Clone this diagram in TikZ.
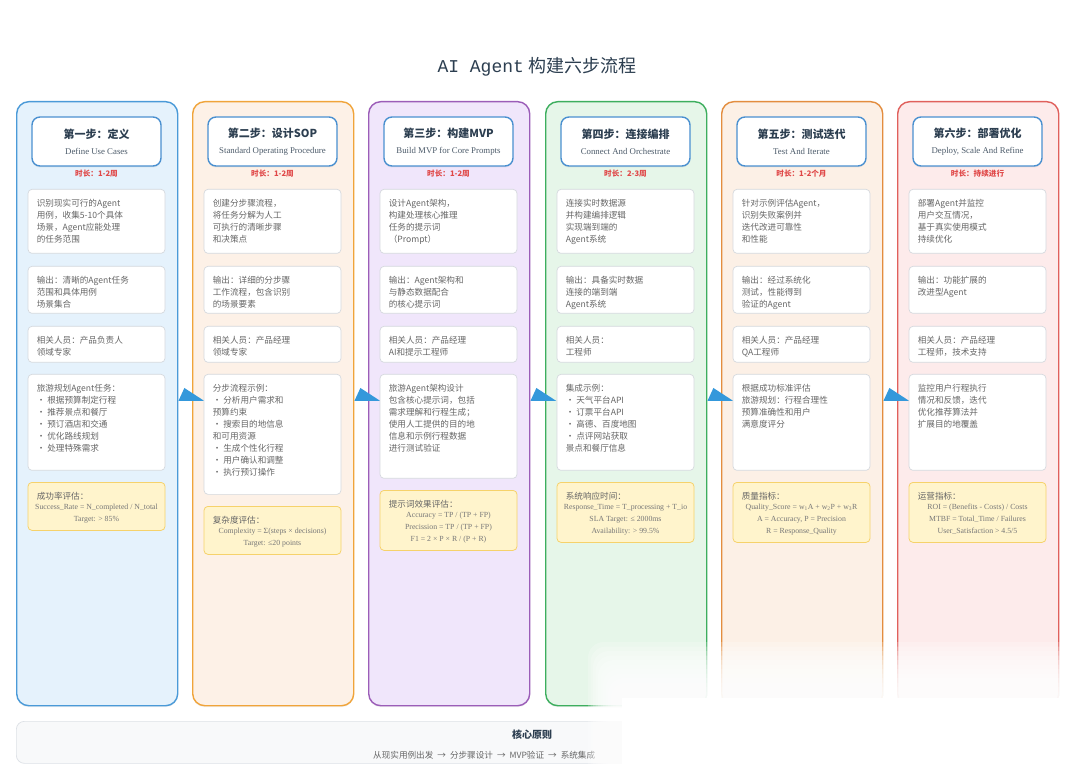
\documentclass[tikz,border=0pt]{standalone}
\usepackage{fontspec}
\setmainfont{Liberation Serif}
\newfontfamily\cjk{Noto Sans CJK SC}
\newfontfamily\monolat{Liberation Mono}
\usepackage{tikz}
\usetikzlibrary{calc, shadows}

\definecolor{sonefill}{HTML}{E5F2FC}   \definecolor{soneline}{HTML}{4A9AD8}
\definecolor{stwofill}{HTML}{FDF1E7}   \definecolor{stwoline}{HTML}{F0A43A}
\definecolor{sthreefill}{HTML}{F0E6FB} \definecolor{sthreeline}{HTML}{9B5DB8}
\definecolor{sfourfill}{HTML}{E6F6E9}  \definecolor{sfourline}{HTML}{3DAE5E}
\definecolor{sfivefill}{HTML}{FCF0E6}  \definecolor{sfiveline}{HTML}{E38D3F}
\definecolor{ssixfill}{HTML}{FDEBEB}   \definecolor{ssixline}{HTML}{E0605C}
\definecolor{headline}{HTML}{4A90D0}
\definecolor{arrowblue}{HTML}{3498DB}
\definecolor{durred}{HTML}{E04848}
\definecolor{boxline}{HTML}{D5D9DE}
\definecolor{metricfill}{HTML}{FFF4CC}
\definecolor{metricline}{HTML}{F6D26B}
\definecolor{titlecol}{HTML}{2C3E50}
\definecolor{bodygray}{HTML}{666666}
\definecolor{formgray}{HTML}{777777}
\definecolor{corefill}{HTML}{F8F9FA}
\definecolor{coreline}{HTML}{DDE1E6}

\tikzset{
    colbox/.style={line width=1.4pt, rounded corners=12pt, anchor=north west,
        minimum width=161pt, minimum height=604pt, inner sep=0pt,
        drop shadow={opacity=0.10, shadow xshift=0pt, shadow yshift=-1.5pt}},
    headbox/.style={draw=headline, line width=1.4pt, fill=white, rounded corners=8pt,
        minimum width=129pt, minimum height=49pt, align=center, inner sep=0pt,
        drop shadow={opacity=0.12, shadow xshift=0pt, shadow yshift=-1.5pt}},
    dur/.style={font=\cjk\bfseries\fontsize{7.6}{9}\selectfont, text=durred},
    descbox/.style={draw=boxline, line width=0.7pt, fill=white, rounded corners=4pt,
        anchor=north, minimum width=137pt, inner sep=0pt},
    metricbox/.style={draw=metricline, line width=0.8pt, fill=metricfill, rounded corners=4pt,
        anchor=north, minimum width=137pt, inner sep=0pt},
    desc/.style={font=\cjk\fontsize{8.6}{12}\selectfont, text=bodygray, anchor=north west,
        align=left, inner sep=0pt},
    formula/.style={font=\fontsize{7.8}{12}\selectfont, text=formgray, anchor=north,
        align=center, inner sep=0pt},
    steparrow/.style={fill=arrowblue},
}
\newcommand{\nextstep}{\hspace{4pt}→\hspace{4pt}}

\begin{document}
\begin{tikzpicture}[x=1pt, y=-1pt]
    \fill[white] (0,0) rectangle (1080,767);
    \useasboundingbox (0,0) rectangle (1080,767);

    \node[font=\fontsize{18}{20}\selectfont, text=titlecol] (title) at (537,67)
        {{\monolat AI Agent} {\cjk 构建六步流程}};

    % columns
    \node[colbox, draw=soneline, fill=sonefill] (s1) at (16,101) {};
    \node[colbox, draw=stwoline, fill=stwofill] (s2) at (192,101) {};
    \node[colbox, draw=sthreeline, fill=sthreefill] (s3) at (368,101) {};
    \node[colbox, draw=sfourline, fill=sfourfill] (s4) at (545,101) {};
    \node[colbox, draw=sfiveline, fill=sfivefill] (s5) at (721,101) {};
    \node[colbox, draw=ssixline, fill=ssixfill] (s6) at (897,101) {};

    \fill[steparrow] ($(s1.north east)+(0,300)$) -- ++(6,-13) -- ++(20,13) -- cycle;
    \fill[steparrow] ($(s2.north east)+(0,300)$) -- ++(6,-13) -- ++(20,13) -- cycle;
    \fill[steparrow] ($(s3.north east)+(0,300)$) -- ++(6,-13) -- ++(20,13) -- cycle;
    \fill[steparrow] ($(s4.north east)+(0,300)$) -- ++(6,-13) -- ++(20,13) -- cycle;
    \fill[steparrow] ($(s5.north east)+(0,300)$) -- ++(6,-13) -- ++(20,13) -- cycle;

    % step 1
    \node[headbox] (h1) at (96.5,141.5) {\textcolor{titlecol}{\cjk\bfseries\fontsize{11}{13}\selectfont 第一步：定义}\\[4pt]
        \textcolor{titlecol!85}{\fontsize{8.8}{10}\selectfont Define Use Cases}};
    \node[dur] (t1) at (96.5,174) {时长：1-2周};
    \node[descbox, minimum height=64pt] (s1a) at (96.5,189) {};
    \node[desc] (s1at) at ([shift={(9,10)}]s1a.north west) {识别现实可行的Agent\\用例，收集5-10个具体\\场景，Agent应能处理\\的任务范围};
    \node[descbox, minimum height=47pt] (s1b) at (96.5,266) {};
    \node[desc] (s1bt) at ([shift={(9,10)}]s1b.north west) {输出：清晰的Agent任务\\范围和具体用例\\场景集合};
    \node[descbox, minimum height=36pt] (s1c) at (96.5,326) {};
    \node[desc] (s1ct) at ([shift={(9,10)}]s1c.north west) {相关人员：产品负责人\\领域专家};
    \node[descbox, minimum height=96pt] (s1d) at (96.5,374) {};
    \node[desc] (s1dt) at ([shift={(9,10)}]s1d.north west) {旅游规划Agent任务：\\• 根据预算制定行程\\• 推荐景点和餐厅\\• 预订酒店和交通\\• 优化路线规划\\• 处理特殊需求};
    \node[metricbox, minimum height=48pt] (s1e) at (96.5,482) {};
    \node[desc] (s1et) at ([shift={(9,10)}]s1e.north west) {成功率评估：};
    \node[formula] (s1ef) at ([shift={(0,22)}]s1e.north) {Success\_Rate = N\_completed / N\_total\\Target: > 85\%};

    % step 2
    \node[headbox] (h2) at (272.5,141.5) {\textcolor{titlecol}{\cjk\bfseries\fontsize{11}{13}\selectfont 第二步：设计SOP}\\[4pt]
        \textcolor{titlecol!85}{\fontsize{8.8}{10}\selectfont Standard Operating Procedure}};
    \node[dur] (t2) at (272.5,174) {时长：1-2周};
    \node[descbox, minimum height=64pt] (s2a) at (272.5,189) {};
    \node[desc] (s2at) at ([shift={(9,10)}]s2a.north west) {创建分步骤流程，\\将任务分解为人工\\可执行的清晰步骤\\和决策点};
    \node[descbox, minimum height=47pt] (s2b) at (272.5,266) {};
    \node[desc] (s2bt) at ([shift={(9,10)}]s2b.north west) {输出：详细的分步骤\\工作流程，包含识别\\的场景要素};
    \node[descbox, minimum height=36pt] (s2c) at (272.5,326) {};
    \node[desc] (s2ct) at ([shift={(9,10)}]s2c.north west) {相关人员：产品经理\\领域专家};
    \node[descbox, minimum height=120pt] (s2d) at (272.5,374) {};
    \node[desc] (s2dt) at ([shift={(9,10)}]s2d.north west) {分步流程示例：\\• 分析用户需求和\\预算约束\\• 搜索目的地信息\\和可用资源\\• 生成个性化行程\\• 用户确认和调整\\• 执行预订操作};
    \node[metricbox, minimum height=48pt] (s2e) at (272.5,506) {};
    \node[desc] (s2et) at ([shift={(9,10)}]s2e.north west) {复杂度评估：};
    \node[formula] (s2ef) at ([shift={(0,22)}]s2e.north) {Complexity = Σ(steps × decisions)\\Target: ≤20 points};

    % step 3
    \node[headbox] (h3) at (448.5,141.5) {\textcolor{titlecol}{\cjk\bfseries\fontsize{11}{13}\selectfont 第三步：构建MVP}\\[4pt]
        \textcolor{titlecol!85}{\fontsize{8.8}{10}\selectfont Build MVP for Core Prompts}};
    \node[dur] (t3) at (448.5,174) {时长：1-2周};
    \node[descbox, minimum height=64pt] (s3a) at (448.5,189) {};
    \node[desc] (s3at) at ([shift={(9,10)}]s3a.north west) {设计Agent架构，\\构建处理核心推理\\任务的提示词\\（Prompt）};
    \node[descbox, minimum height=47pt] (s3b) at (448.5,266) {};
    \node[desc] (s3bt) at ([shift={(9,10)}]s3b.north west) {输出：Agent架构和\\与静态数据配合\\的核心提示词};
    \node[descbox, minimum height=36pt] (s3c) at (448.5,326) {};
    \node[desc] (s3ct) at ([shift={(9,10)}]s3c.north west) {相关人员：产品经理\\AI和提示工程师};
    \node[descbox, minimum height=104pt] (s3d) at (448.5,374) {};
    \node[desc] (s3dt) at ([shift={(9,10)}]s3d.north west) {旅游Agent架构设计\\包含核心提示词，包括\\需求理解和行程生成；\\使用人工提供的目的地\\信息和示例行程数据\\进行测试验证};
    \node[metricbox, minimum height=60pt] (s3e) at (448.5,490) {};
    \node[desc] (s3et) at ([shift={(9,10)}]s3e.north west) {提示词效果评估：};
    \node[formula] (s3ef) at ([shift={(0,22)}]s3e.north) {Accuracy = TP / (TP + FP)\\Precission = TP / (TP + FP)\\F1 = 2 × P × R / (P + R)};

    % step 4
    \node[headbox] (h4) at (625.5,141.5) {\textcolor{titlecol}{\cjk\bfseries\fontsize{11}{13}\selectfont 第四步：连接编排}\\[4pt]
        \textcolor{titlecol!85}{\fontsize{8.8}{10}\selectfont Connect And Orchestrate}};
    \node[dur] (t4) at (625.5,174) {时长：2-3周};
    \node[descbox, minimum height=64pt] (s4a) at (625.5,189) {};
    \node[desc] (s4at) at ([shift={(9,10)}]s4a.north west) {连接实时数据源\\并构建编排逻辑\\实现端到端的\\Agent系统};
    \node[descbox, minimum height=47pt] (s4b) at (625.5,266) {};
    \node[desc] (s4bt) at ([shift={(9,10)}]s4b.north west) {输出：具备实时数据\\连接的端到端\\Agent系统};
    \node[descbox, minimum height=36pt] (s4c) at (625.5,326) {};
    \node[desc] (s4ct) at ([shift={(9,10)}]s4c.north west) {相关人员：\\工程师};
    \node[descbox, minimum height=96pt] (s4d) at (625.5,374) {};
    \node[desc] (s4dt) at ([shift={(9,10)}]s4d.north west) {集成示例：\\• 天气平台API\\• 订票平台API\\• 高德、百度地图\\• 点评网站获取\\景点和餐厅信息};
    \node[metricbox, minimum height=60pt] (s4e) at (625.5,482) {};
    \node[desc] (s4et) at ([shift={(9,10)}]s4e.north west) {系统响应时间：};
    \node[formula] (s4ef) at ([shift={(0,22)}]s4e.north) {Response\_Time = T\_processing + T\_io\\SLA Target: ≤ 2000ms\\Availability: > 99.5\%};

    % step 5
    \node[headbox] (h5) at (801.5,141.5) {\textcolor{titlecol}{\cjk\bfseries\fontsize{11}{13}\selectfont 第五步：测试迭代}\\[4pt]
        \textcolor{titlecol!85}{\fontsize{8.8}{10}\selectfont Test And Iterate}};
    \node[dur] (t5) at (801.5,174) {时长：1-2个月};
    \node[descbox, minimum height=64pt] (s5a) at (801.5,189) {};
    \node[desc] (s5at) at ([shift={(9,10)}]s5a.north west) {针对示例评估Agent，\\识别失败案例并\\迭代改进可靠性\\和性能};
    \node[descbox, minimum height=47pt] (s5b) at (801.5,266) {};
    \node[desc] (s5bt) at ([shift={(9,10)}]s5b.north west) {输出：经过系统化\\测试，性能得到\\验证的Agent};
    \node[descbox, minimum height=36pt] (s5c) at (801.5,326) {};
    \node[desc] (s5ct) at ([shift={(9,10)}]s5c.north west) {相关人员：产品经理\\QA工程师};
    \node[descbox, minimum height=96pt] (s5d) at (801.5,374) {};
    \node[desc] (s5dt) at ([shift={(9,10)}]s5d.north west) {根据成功标准评估\\旅游规划：行程合理性\\预算准确性和用户\\满意度评分};
    \node[metricbox, minimum height=60pt] (s5e) at (801.5,482) {};
    \node[desc] (s5et) at ([shift={(9,10)}]s5e.north west) {质量指标：};
    \node[formula] (s5ef) at ([shift={(0,22)}]s5e.north) {Quality\_Score = w\textsubscript{1}A + w\textsubscript{2}P + w\textsubscript{3}R\\A = Accuracy, P = Precision\\R = Response\_Quality};

    % step 6
    \node[headbox] (h6) at (977.5,141.5) {\textcolor{titlecol}{\cjk\bfseries\fontsize{11}{13}\selectfont 第六步：部署优化}\\[4pt]
        \textcolor{titlecol!85}{\fontsize{8.8}{10}\selectfont Deploy, Scale And Refine}};
    \node[dur] (t6) at (977.5,174) {时长：持续进行};
    \node[descbox, minimum height=64pt] (s6a) at (977.5,189) {};
    \node[desc] (s6at) at ([shift={(9,10)}]s6a.north west) {部署Agent并监控\\用户交互情况，\\基于真实使用模式\\持续优化};
    \node[descbox, minimum height=47pt] (s6b) at (977.5,266) {};
    \node[desc] (s6bt) at ([shift={(9,10)}]s6b.north west) {输出：功能扩展的\\改进型Agent};
    \node[descbox, minimum height=36pt] (s6c) at (977.5,326) {};
    \node[desc] (s6ct) at ([shift={(9,10)}]s6c.north west) {相关人员：产品经理\\工程师，技术支持};
    \node[descbox, minimum height=96pt] (s6d) at (977.5,374) {};
    \node[desc] (s6dt) at ([shift={(9,10)}]s6d.north west) {监控用户行程执行\\情况和反馈，迭代\\优化推荐算法并\\扩展目的地覆盖};
    \node[metricbox, minimum height=60pt] (s6e) at (977.5,482) {};
    \node[desc] (s6et) at ([shift={(9,10)}]s6e.north west) {运营指标：};
    \node[formula] (s6ef) at ([shift={(0,22)}]s6e.north) {ROI = (Benefits - Costs) / Costs\\MTBF = Total\_Time / Failures\\User\_Satisfaction > 4.5/5};

    % core principle
    \node[draw=coreline, line width=0.7pt, fill=corefill, rounded corners=8pt, anchor=north west,
        minimum width=1042pt, minimum height=42pt, inner sep=0pt] (core) at (16,721) {};
    \node[font=\cjk\bfseries\fontsize{10}{12}\selectfont, text=titlecol] (coret) at (532,735) {核心原则};
    \node[font=\cjk\fontsize{8.6}{10}\selectfont, text=bodygray, anchor=west, inner sep=0pt] (corel) at (373,755)
        {从现实用例出发\nextstep 分步骤设计\nextstep MVP验证\nextstep 系统集成};

    % faded lower right corner
    \foreach \k in {0,...,11}
        \fill[white, opacity=0.22, rounded corners=16pt] ({588+2.5*\k},{642+4.5*\k}) rectangle (1090,780);
    \fill[white] (622,698) rectangle (1080,767);
\end{tikzpicture}
\end{document}
